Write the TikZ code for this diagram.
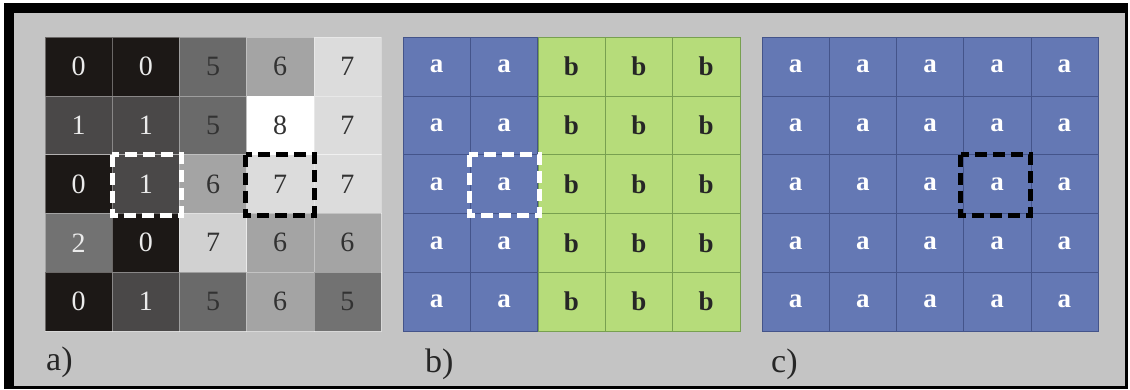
\documentclass[tikz,border=0pt]{standalone}
\usepackage{fontspec}
\setmainfont{Liberation Serif}
\usetikzlibrary{calc}

% panel colours
\definecolor{framegray}{RGB}{196,196,196}
\definecolor{cellblue}{RGB}{100,120,180}
\definecolor{cellgreen}{RGB}{182,220,122}
\definecolor{blueline}{RGB}{68,84,138}
\definecolor{greenline}{RGB}{120,160,80}
% grey levels of the intensity grid
\definecolor{g0}{RGB}{28,24,22}
\definecolor{g1}{RGB}{74,72,72}
\definecolor{g2}{RGB}{114,114,114}
\definecolor{g5}{RGB}{106,106,106}
\definecolor{g6}{RGB}{164,164,164}
\definecolor{g7}{RGB}{220,220,220}
\definecolor{g8}{RGB}{255,255,255}
\definecolor{lighttxt}{RGB}{235,235,235}
\definecolor{darktxt}{RGB}{50,50,50}

\tikzset{
  cell/.style={rectangle, anchor=north west, minimum width=67.2pt,
    minimum height=58.8pt, inner sep=0pt, outer sep=0pt,
    font=\fontsize{28}{28}\selectfont},
  graycell/.style={cell, draw=white, draw opacity=0.35, line width=0.6pt},
  bluecell/.style={cell, fill=cellblue, draw=blueline, line width=0.6pt,
    text=white, font=\fontsize{27}{27}\selectfont\bfseries},
  greencell/.style={cell, fill=cellgreen, draw=greenline, line width=0.6pt,
    text=black!85, font=\fontsize{27}{27}\selectfont\bfseries},
  markbox/.style={line width=5pt, dash pattern=on 12pt off 6pt},
  panellabel/.style={anchor=west, inner sep=0pt, text=black!85,
    font=\fontsize{34}{34}\selectfont},
}

% row, column, value, fill, text colour
\newcommand\intcell[5]{%
  \node[graycell, fill=#4, text=#5] (a-#1-#2)
    at ({45+(#2-1)*67.2},{37+(#1-1)*58.8}) {#3};}

\begin{document}
\begin{tikzpicture}[x=1pt,y=-1pt]
  % page and frame
  \useasboundingbox (0,0) rectangle (1130,389);
  \fill[white] (0,0) rectangle (1130,389);
  \fill[black] (4,3) rectangle (1128,389);
  \fill[framegray] (14,13) rectangle (1125,386);

  % (a) intensity values
  \intcell{1}{1}{0}{g0}{lighttxt}
  \intcell{1}{2}{0}{g0}{lighttxt}
  \intcell{1}{3}{5}{g5}{darktxt}
  \intcell{1}{4}{6}{g6}{darktxt}
  \intcell{1}{5}{7}{g7}{darktxt}
  \intcell{2}{1}{1}{g1}{lighttxt}
  \intcell{2}{2}{1}{g1}{lighttxt}
  \intcell{2}{3}{5}{g5}{darktxt}
  \intcell{2}{4}{8}{g8}{darktxt}
  \intcell{2}{5}{7}{g7}{darktxt}
  \intcell{3}{1}{0}{g0}{lighttxt}
  \intcell{3}{2}{1}{g1}{lighttxt}
  \intcell{3}{3}{6}{g6}{darktxt}
  \intcell{3}{4}{7}{g7}{darktxt}
  \intcell{3}{5}{7}{g7}{darktxt}
  \intcell{4}{1}{2}{g2}{lighttxt}
  \intcell{4}{2}{0}{g0}{lighttxt}
  \intcell{4}{3}{7}{g7!95!black}{darktxt}
  \intcell{4}{4}{6}{g6}{darktxt}
  \intcell{4}{5}{6}{g6}{darktxt}
  \intcell{5}{1}{0}{g0}{lighttxt}
  \intcell{5}{2}{1}{g1}{lighttxt}
  \intcell{5}{3}{5}{g5}{darktxt}
  \intcell{5}{4}{6}{g6}{darktxt}
  \intcell{5}{5}{5}{g2}{darktxt}

  % (b) two classes
  \foreach \r in {1,...,5}
    \foreach \c in {1,...,5} {
      \ifnum\c<3
        \node[bluecell] (b-\r-\c) at ({403+(\c-1)*67.4},{37+(\r-1)*58.8}) {a};
      \else
        \node[greencell] (b-\r-\c) at ({403+(\c-1)*67.4},{37+(\r-1)*58.8}) {b};
      \fi
    }

  % (c) single class
  \foreach \r in {1,...,5}
    \foreach \c in {1,...,5}
      \node[bluecell] (c-\r-\c) at ({762+(\c-1)*67.2},{37+(\r-1)*58.8}) {a};

  % highlighted cells
  \draw[markbox, white] (a-3-2.north west) rectangle ($(a-3-2.south east)+(1.6,1.6)$);
  \draw[markbox, black] ($(a-3-4.north west)+(-1,0)$) rectangle ($(a-3-4.south east)+(0.8,1.6)$);
  \draw[markbox, white] ($(b-3-2.north west)+(-1,0)$) rectangle ($(b-3-2.south east)+(1.6,1.6)$);
  \draw[markbox, black] ($(c-3-4.north west)+(-3,0)$) rectangle ($(c-3-4.south east)+(-0.5,1.6)$);

  % panel labels
  \node[panellabel] (la) at (46,362) {a)};
  \node[panellabel] (lb) at (425,364) {b)};
  \node[panellabel] (lc) at (771,364) {c)};
\end{tikzpicture}
\end{document}
